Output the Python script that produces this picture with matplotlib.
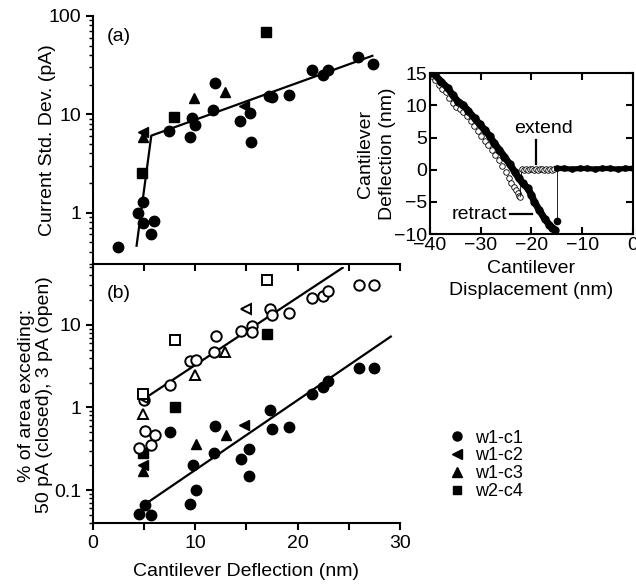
import matplotlib
matplotlib.use("Agg")
import matplotlib.pyplot as plt
from matplotlib.lines import Line2D

plt.rcParams['font.family'] = ['Liberation Sans', 'DejaVu Sans']
plt.rcParams['font.size'] = 14

# ---- panel (a): current std. dev. vs deflection ----
a_c1_x = [2.4, 4.4, 4.9, 4.9, 5.95, 5.66, 7.45, 9.46, 9.7, 9.95, 11.7, 11.9, 14.4,
          15.3, 15.4, 17.2, 17.5, 19.15, 21.4, 22.5, 22.95, 25.9, 27.4]
a_c1_y = [0.45, 1.0, 1.27, 0.79, 0.83, 0.6, 6.8, 5.9, 9.1, 7.8, 11.1, 21, 8.5,
          10.2, 5.2, 15.2, 15.0, 15.8, 28, 25, 28, 38.6, 32.6]
a_c2_x = [4.9, 14.8]
a_c2_y = [6.6, 12.2]
a_c3_x = [4.9, 9.9, 12.9]
a_c3_y = [5.9, 14.6, 16.7]
a_c4_x = [4.8, 7.9, 16.9]
a_c4_y = [2.5, 9.4, 68]
fit_a_x = [4.26, 5.7, 27.3]
fit_a_y = [0.46, 6.06, 39.3]

# ---- panel (b): % area exceeding, closed (filled) / open (hollow) ----
b_c1_closed_x = [4.5, 5.07, 5.7, 7.5, 9.46, 9.8, 10.05, 11.8, 11.9, 14.5, 15.25, 15.25,
                 17.3, 17.5, 19.2, 21.4, 22.5, 23.0, 25.95, 27.45]
b_c1_closed_y = [0.052, 0.066, 0.05, 0.51, 0.068, 0.2, 0.10, 0.28, 0.59, 0.24, 0.31, 0.15,
                 0.92, 0.55, 0.58, 1.44, 1.78, 2.07, 3.0, 3.0]
b_c2_closed_x = [4.9, 14.8]
b_c2_closed_y = [0.2, 0.62]
b_c3_closed_x = [4.9, 10.05, 13.0]
b_c3_closed_y = [0.17, 0.36, 0.46]
b_c4_closed_x = [4.9, 8.0, 17.0]
b_c4_closed_y = [0.28, 1.0, 7.7]

b_c1_open_x = [4.5, 5.07, 5.7, 6.05, 5.0, 7.5, 9.5, 10.05, 11.8, 12.0, 14.5, 15.5, 15.5,
               17.3, 17.5, 19.2, 21.4, 22.5, 23.0, 26.0, 27.45]
b_c1_open_y = [0.32, 0.52, 0.35, 0.46, 1.22, 1.87, 3.6, 3.8, 4.7, 7.3, 8.4, 9.7, 8.2,
               15.5, 13.2, 13.8, 21, 22.5, 25.5, 30, 30.5]
b_c2_open_x = [4.9, 15.0]
b_c2_open_y = [1.3, 15.5]
b_c3_open_x = [4.9, 9.95, 12.9]
b_c3_open_y = [0.84, 2.5, 4.7]
b_c4_open_x = [4.9, 8.0, 17.0]
b_c4_open_y = [1.47, 6.5, 35]

fit_open_x = [4.9, 24.4]
fit_open_y = [1.25, 49]
fit_closed_x = [4.9, 29.1]
fit_closed_y = [0.065, 7.2]

# ---- inset: force curve ----
ext_x = [-39.6, -39.0, -38.3, -37.6, -36.9, -36.2, -35.5, -34.8, -34.1, -33.4, -32.7,
         -32.0, -31.3, -30.6, -29.9, -29.2, -28.5, -27.8, -27.1, -26.4, -25.7, -25.1,
         -24.5, -24.0, -23.5, -23.1, -22.7, -22.4, -22.2]
ext_y = [14.6, 13.9, 13.2, 12.6, 12.0, 11.2, 10.4, 9.7, 9.4, 9.0, 8.3, 7.6, 6.8, 6.0,
         5.3, 4.5, 3.8, 3.1, 2.3, 1.5, 0.6, -0.4, -1.3, -2.0, -2.7, -3.2, -3.6, -4.0, -4.2]
ext_jump_x = [-22.2, -21.9]
ext_jump_y = [-4.2, 0.1]
ext_free_x = [-21.9, -21.5, -21.1, -20.7, -20.3, -19.9, -19.5, -19.1, -18.7, -18.3,
              -17.9, -17.5, -17.1, -16.7, -16.3, -15.9, -15.5]
ext_free_y = [0.1, 0.0, 0.1, 0.0, 0.1, 0.1, 0.0, 0.1, 0.0, 0.1, 0.1, 0.0, 0.1, 0.0,
              0.1, 0.0, 0.1]

ret_x = [-40.0, -39.1, -37.8, -36.5, -35.5, -34.5, -33.5, -32.4, -31.2, -30.2, -29.2,
         -28.2, -27.3, -26.3, -25.3, -24.3, -23.3, -22.5, -21.7, -20.7, -20.0, -19.4,
         -18.4, -17.4, -16.5, -15.9, -15.4]
ret_y = [15.0, 14.8, 13.7, 12.7, 11.6, 10.6, 10.1, 9.1, 8.0, 7.1, 6.2, 5.2, 4.1, 3.1,
         2.0, 0.9, -0.3, -1.3, -2.1, -2.9, -3.9, -5.0, -6.3, -7.6, -8.5, -9.0, -9.3]
ret_jump_x = [-15.0, -15.0]
ret_jump_y = [-7.9, 0.2]
ret_free_x = [-15.0, -13.5, -12.0, -10.5, -9.0, -7.5, -6.0, -4.5, -3.0, -1.5, 0.0]
ret_free_y = [0.2, 0.2, 0.1, 0.2, 0.2, 0.1, 0.2, 0.2, 0.1, 0.2, 0.2]

labels = ["w1-c1", "w1-c2", "w1-c3", "w2-c4"]
markers = ["o", "<", "^", "s"]
sizes = [7.5, 7.5, 7.5, 6.5]

fig = plt.figure(figsize=(6.36, 5.84), dpi=100)
axa = fig.add_axes([0.1462, 0.548, 0.4827, 0.4247])
axb = fig.add_axes([0.1462, 0.1045, 0.4827, 0.4383])
axi = fig.add_axes([0.676, 0.599, 0.319, 0.2757])

# panel a
axa.plot(fit_a_x, fit_a_y, color="black", lw=1.6, zorder=2)
a_sets = [(a_c1_x, a_c1_y), (a_c2_x, a_c2_y), (a_c3_x, a_c3_y), (a_c4_x, a_c4_y)]
for (xs, ys), m, s in zip(a_sets, markers, sizes):
    axa.plot(xs, ys, ls="none", marker=m, ms=s, color="black", zorder=3)

# panel b
axb.plot(fit_open_x, fit_open_y, color="black", lw=1.6, zorder=2)
axb.plot(fit_closed_x, fit_closed_y, color="black", lw=1.6, zorder=2)
closed_sets = [(b_c1_closed_x, b_c1_closed_y), (b_c2_closed_x, b_c2_closed_y),
               (b_c3_closed_x, b_c3_closed_y), (b_c4_closed_x, b_c4_closed_y)]
open_sets = [(b_c1_open_x, b_c1_open_y), (b_c2_open_x, b_c2_open_y),
             (b_c3_open_x, b_c3_open_y), (b_c4_open_x, b_c4_open_y)]
for (xs, ys), m, s in zip(closed_sets, markers, sizes):
    axb.plot(xs, ys, ls="none", marker=m, ms=s, color="black", zorder=3)
for (xs, ys), m, s in zip(open_sets, markers, sizes):
    axb.plot(xs, ys, ls="none", marker=m, ms=s, mfc="white", mec="black",
             mew=1.4, zorder=3)

for ax in (axa, axb):
    ax.set_yscale("log")
    ax.set_xlim(0, 30)
    ax.set_xticks(range(0, 31, 5))
    ax.spines["top"].set_visible(False)
    ax.spines["right"].set_visible(False)
    for sp in ("left", "bottom"):
        ax.spines[sp].set_linewidth(1.5)
    ax.tick_params(which="major", length=5, width=1.5, direction="out", labelsize=14)
    ax.tick_params(which="minor", length=3, width=1.0, direction="out")
    ax.patch.set_alpha(0)

axa.set_ylim(0.3, 100)
axa.set_yticks([1, 10, 100])
axa.set_yticklabels(["1", "10", "100"])
axa.tick_params(axis="x", labelbottom=False)
axa.set_ylabel("Current Std. Dev. (pA)", fontsize=14)
axa.yaxis.set_label_coords(-0.12, 0.5)
axa.text(0.045, 0.9, "(a)", transform=axa.transAxes, fontsize=14)

axb.set_ylim(0.04, 50)
axb.set_yticks([0.1, 1, 10])
axb.set_yticklabels(["0.1", "1", "10"])
axb.set_xticklabels(["0", "", "10", "", "20", "", "30"])
axb.set_xlabel("Cantilever Deflection (nm)", fontsize=14, labelpad=8)
axb.set_ylabel("% of area exceding:\n50 pA (closed), 3 pA (open)", fontsize=14,
               linespacing=1.1)
axb.yaxis.set_label_coords(-0.13, 0.5)
axb.text(0.045, 0.88, "(b)", transform=axb.transAxes, fontsize=14)

# inset
axi.plot(ext_x, ext_y, ls="none", marker="o", ms=4, mfc="white", mec="black",
         mew=0.6, zorder=2)
axi.plot(ext_jump_x, ext_jump_y, color="black", lw=0.6, zorder=2)
axi.plot(ext_free_x, ext_free_y, ls="none", marker="o", ms=4, mfc="white", mec="black",
         mew=0.6, zorder=2)
axi.plot(ret_x, ret_y, color="black", lw=5, marker="o", ms=5, zorder=3,
         solid_capstyle="round")
axi.plot(ret_jump_x, ret_jump_y, color="black", lw=0.6, zorder=2)
axi.plot([ret_jump_x[0]], [ret_jump_y[0]], marker="o", ms=4.5, color="black", zorder=3)
axi.plot(ret_free_x, ret_free_y, color="black", lw=3.8, marker="o", ms=3.8, zorder=3)

axi.set_xlim(-40, 0)
axi.set_ylim(-10, 15)
axi.set_xticks([-40, -30, -20, -10, 0])
axi.set_yticks([-10, -5, 0, 5, 10, 15])
for sp in axi.spines.values():
    sp.set_linewidth(1.5)
axi.tick_params(direction="in", length=5, width=1.5, top=True, right=True,
                labelsize=14, pad=2)
axi.set_xlabel("Cantilever\nDisplacement (nm)", fontsize=14, labelpad=4, linespacing=1.4)
axi.set_ylabel("Cantilever\nDeflection (nm)", fontsize=14, linespacing=1.4)
axi.yaxis.set_label_coords(-0.165, 0.5)
axi.text(-17.7, 6.4, "extend", ha="center", va="center", fontsize=14)
axi.plot([-19, -19], [4.6, 0.9], color="black", lw=1.6)
axi.text(-30.3, -6.9, "retract", ha="center", va="center", fontsize=14)
axi.plot([-24.2, -19.9], [-6.9, -6.9], color="black", lw=1.6)

# legend
handles = [Line2D([], [], ls="none", marker=m, ms=s - 1, color="black")
           for m, s in zip(markers, sizes)]
fig.legend(handles, labels, loc="upper left", bbox_to_anchor=(0.69, 0.28),
           frameon=False, fontsize=13, handlelength=1.0, handletextpad=0.5,
           labelspacing=0.05, borderpad=0)

fig.savefig("out.png", dpi=100)
